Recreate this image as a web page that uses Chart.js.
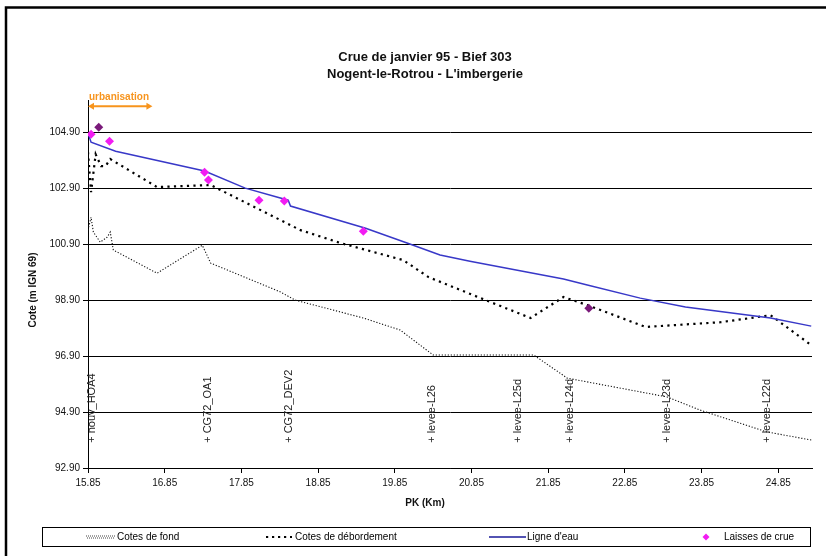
<!DOCTYPE html>
<html><head><meta charset="utf-8">
<script src="https://cdn.jsdelivr.net/npm/chart.js@4"></script>
<style>html,body{margin:0;padding:0;background:#fff}#wrap{width:826px;height:556px}</style>
</head><body><div id="wrap"><canvas id="c" width="826" height="556"></canvas></div>
<script>
// ---------- text ----------
const chartTitle = ['Crue de janvier 95 - Bief 303', "Nogent-le-Rotrou - L'imbergerie"];
const xTitle = 'PK (Km)';
const yTitle = 'Cote (m IGN 69)';
const seriesNames = ['Cotes de fond', 'Cotes de débordement', "Ligne d'eau", 'Laisses de crue'];

// ---------- ticks ----------
const xTicks = [15.85, 16.85, 17.85, 18.85, 19.85, 20.85, 21.85, 22.85, 23.85, 24.85];
const yTicks = [92.90, 94.90, 96.90, 98.90, 100.90, 102.90, 104.90];

// ---------- series ----------
const bedPK = [15.85, 15.89, 15.92, 16.01, 16.10, 16.14, 16.18, 16.75, 17.34, 17.45, 18.36, 18.55, 19.44, 19.92, 20.35, 21.66, 22.10, 23.40, 23.83, 24.70, 25.28];
const bedZ  = [101.40, 101.86, 101.33, 100.97, 101.15, 101.33, 100.69, 99.86, 100.86, 100.22, 99.19, 98.90, 98.26, 97.83, 96.94, 96.94, 96.11, 95.44, 94.97, 94.19, 93.90];

const overflowPK = [15.85, 15.89, 15.95, 16.02, 16.08, 16.14, 16.75, 17.45, 18.62, 19.14, 19.96, 20.29, 20.97, 21.62, 22.05, 22.36, 23.12, 24.10, 24.75, 25.28];
const overflowZ  = [104.19, 102.76, 104.11, 103.69, 103.69, 103.94, 102.94, 103.01, 101.40, 100.94, 100.33, 99.72, 98.97, 98.26, 99.01, 98.72, 97.94, 98.11, 98.36, 97.29];

const waterPK = [15.85, 15.89, 16.21, 17.37, 17.90, 18.46, 18.49, 19.47, 20.01, 20.44, 20.83, 22.05, 22.36, 23.05, 23.64, 24.75, 25.28];
const waterZ  = [104.86, 104.54, 104.22, 103.51, 102.90, 102.47, 102.26, 101.47, 100.94, 100.51, 100.29, 99.65, 99.44, 98.97, 98.65, 98.26, 97.97];

const marksPK = [15.89, 15.99, 16.13, 17.37, 17.42, 18.08, 18.41, 19.44, 22.38];
const marksZ  = [104.83, 105.08, 104.58, 103.47, 103.19, 102.47, 102.44, 101.36, 98.61];

// ---------- annotations ----------
const structNames = ['nouv_HOA4', 'CG72_OA1', 'CG72_DEV2', 'levee-L26', 'levee-L25d', 'levee-L24d', 'levee-L23d', 'levee-L22d'];
const structPK = [15.90, 17.42, 18.47, 20.34, 21.46, 22.14, 23.40, 24.70];
const structLevel = 93.80;
const urbanLabel = 'urbanisation';
const urbanPK = [15.85, 16.69];
const urbanZ = 105.83;

// ---------- styles ----------
const FONT = "'Liberation Sans', Arial, sans-serif";
const C_WATER = '#3838C8', C_MARK = '#F21CF2', C_MARK_DARK = '#7A1A7A', C_URBAN = '#F7941D';
const darkMarks = new Set([1, 8]);

const pts = (xs, ys) => xs.map((x, i) => ({x, y: ys[i]}));

const deco = {
  id: 'deco',
  afterDraw(chart) {
    const {ctx, scales: {x, y}} = chart;
    ctx.save();
    // outer frame
    ctx.strokeStyle = '#000'; ctx.lineWidth = 2.5;
    ctx.beginPath(); ctx.moveTo(6, 600); ctx.lineTo(6, 7.5); ctx.lineTo(900, 7.5); ctx.stroke();

    // title
    ctx.fillStyle = '#111'; ctx.textAlign = 'center'; ctx.textBaseline = 'middle';
    ctx.font = 'bold 13px ' + FONT;
    ctx.fillText(chartTitle[0], 425, 57);
    ctx.fillText(chartTitle[1], 425, 74);
    // axis titles
    ctx.font = 'bold 10px ' + FONT;
    ctx.fillText(xTitle, 425, 503);
    ctx.save(); ctx.translate(33, 290); ctx.rotate(-Math.PI / 2); ctx.fillText(yTitle, 0, 0); ctx.restore();

    // urbanisation arrow
    const ux0 = x.getPixelForValue(urbanPK[0]), ux1 = x.getPixelForValue(urbanPK[1]), uy = y.getPixelForValue(urbanZ);
    ctx.strokeStyle = C_URBAN; ctx.fillStyle = C_URBAN; ctx.lineWidth = 2;
    ctx.beginPath(); ctx.moveTo(ux0 + 4, uy); ctx.lineTo(ux1 - 4, uy); ctx.stroke();
    ctx.beginPath(); ctx.moveTo(ux0, uy); ctx.lineTo(ux0 + 6, uy - 3.5); ctx.lineTo(ux0 + 6, uy + 3.5); ctx.closePath(); ctx.fill();
    ctx.beginPath(); ctx.moveTo(ux1, uy); ctx.lineTo(ux1 - 6, uy - 3.5); ctx.lineTo(ux1 - 6, uy + 3.5); ctx.closePath(); ctx.fill();
    ctx.font = 'bold 10px ' + FONT; ctx.textAlign = 'left';
    ctx.fillText(urbanLabel, ux0 + 1, uy - 9);

    // structure labels
    ctx.fillStyle = '#222'; ctx.font = '11px ' + FONT; ctx.textAlign = 'left'; ctx.textBaseline = 'middle';
    const sy = y.getPixelForValue(structLevel);
    structNames.forEach((n, i) => {
      const sx = x.getPixelForValue(structPK[i]);
      ctx.save(); ctx.translate(sx, sy); ctx.rotate(-Math.PI / 2); ctx.fillText('+ ' + n, 0, 0); ctx.restore();
    });

    // legend
    ctx.strokeStyle = '#000'; ctx.lineWidth = 1;
    ctx.strokeRect(42.5, 527.5, 768, 19);
    const ly = 537;
    ctx.fillStyle = '#000'; ctx.font = '10px ' + FONT; ctx.textAlign = 'left';
    // fond
    ctx.strokeStyle = '#444'; ctx.lineWidth = 1; ctx.setLineDash([1, 1]);
    ctx.beginPath(); ctx.moveTo(86, ly - 1); ctx.lineTo(115, ly - 1); ctx.moveTo(87, ly + 1); ctx.lineTo(115, ly + 1); ctx.stroke();
    ctx.fillText(seriesNames[0], 117, ly);
    // debordement
    ctx.strokeStyle = '#000'; ctx.lineWidth = 2.2; ctx.setLineDash([2.2, 3.8]);
    ctx.beginPath(); ctx.moveTo(266, ly); ctx.lineTo(292, ly); ctx.stroke();
    ctx.setLineDash([]);
    ctx.fillText(seriesNames[1], 295, ly);
    // ligne d'eau
    ctx.strokeStyle = '#1a1a9a'; ctx.lineWidth = 1.5;
    ctx.beginPath(); ctx.moveTo(489, ly); ctx.lineTo(526, ly); ctx.stroke();
    ctx.fillText(seriesNames[2], 527, ly);
    // laisses
    ctx.fillStyle = C_MARK;
    ctx.beginPath(); ctx.moveTo(706, ly - 3.5); ctx.lineTo(709.5, ly); ctx.lineTo(706, ly + 3.5); ctx.lineTo(702.5, ly); ctx.closePath(); ctx.fill();
    ctx.fillStyle = '#000';
    ctx.fillText(seriesNames[3], 724, ly);
    ctx.restore();
  }
};

new Chart(document.getElementById('c'), {
  type: 'line',
  data: {
    datasets: [
      { label: seriesNames[0], data: pts(bedPK, bedZ), borderColor: '#111', borderWidth: 1.1, borderDash: [1.2, 1.8], pointRadius: 0, tension: 0, order: 4 },
      { label: seriesNames[1], data: pts(overflowPK, overflowZ), borderColor: '#000', borderWidth: 2.2, borderDash: [2.2, 4.3], pointRadius: 0, tension: 0, order: 3 },
      { label: seriesNames[2], data: pts(waterPK, waterZ), borderColor: C_WATER, borderWidth: 1.5, pointRadius: 0, tension: 0, order: 2 },
      { label: seriesNames[3], data: pts(marksPK, marksZ), showLine: false, pointStyle: 'rectRot', pointRadius: 4.5, borderWidth: 0,
        pointBackgroundColor: ctx => darkMarks.has(ctx.dataIndex) ? C_MARK_DARK : C_MARK, order: 1 }
    ]
  },
  options: {
    responsive: false, animation: false, devicePixelRatio: 1,
    layout: { padding: { top: 100, right: 14, bottom: 0, left: 0 } },
    plugins: { legend: { display: false }, title: { display: false }, tooltip: { enabled: false } },
    scales: {
      x: {
        type: 'linear', min: 15.85, max: 25.29,
        afterBuildTicks: s => { s.ticks = xTicks.map(v => ({ value: v })); },
        afterFit: s => { s.height = 88; },
        ticks: { callback: v => v.toFixed(2), font: { family: FONT, size: 10 }, color: '#111', padding: 4, maxRotation: 0, autoSkip: false },
        grid: { drawOnChartArea: false, drawTicks: true, tickLength: 5, color: '#000' },
        border: { display: true, color: '#000', width: 1 }
      },
      y: {
        type: 'linear', min: 92.9, max: 106.05,
        afterBuildTicks: s => { s.ticks = yTicks.map(v => ({ value: v })); },
        afterFit: s => { s.width = 88; },
        ticks: { callback: v => v.toFixed(2), font: { family: FONT, size: 10 }, color: '#111', padding: 3, autoSkip: false },
        grid: { color: '#000', lineWidth: 1, tickLength: 5 },
        border: { display: true, color: '#000', width: 1 }
      }
    }
  },
  plugins: [deco]
});
</script></body></html>
